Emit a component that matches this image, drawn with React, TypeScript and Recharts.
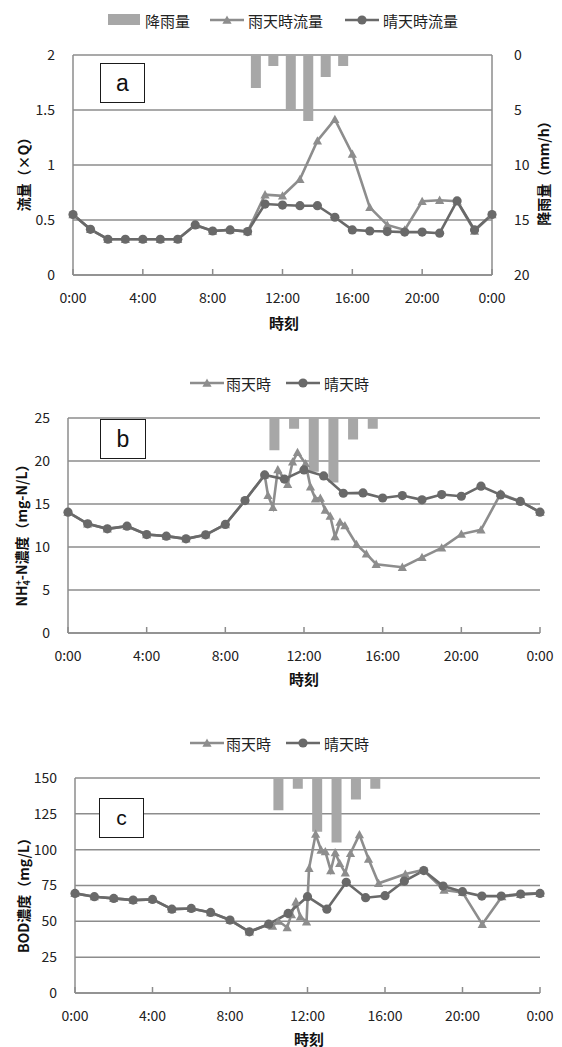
import React from "react";
import { Bar, CartesianGrid, ComposedChart, Line, XAxis, YAxis } from "recharts";

const FONT = "'Noto Sans CJK JP', 'Liberation Sans', sans-serif";
const GRID = "#8c8c8c";
const RAIN_C = "#8d8d8d";
const DRY_C = "#696969";
const BAR_C = "#a7a7a7";
const TXT = "#222";

// time axis
const timeTicks = [0, 4, 8, 12, 16, 20, 24];
const hours = [0, 1, 2, 3, 4, 5, 6, 7, 8, 9, 10, 11, 12, 13, 14, 15, 16, 17, 18, 19, 20, 21, 22, 23, 24];

// rainfall (mm/h), hung from the top on a reversed axis
const rainfallTimes = [10.5, 11.5, 12.5, 13.5, 14.5, 15.5];
const rainfall = [3, 1, 5, 6, 2, 1];

// a: flow (xQ)
const flowDry = [0.55, 0.415, 0.325, 0.325, 0.325, 0.325, 0.325, 0.455, 0.4, 0.41, 0.395, 0.645, 0.636, 0.63, 0.63, 0.525, 0.41, 0.4, 0.395, 0.39, 0.39, 0.38, 0.673, 0.41, 0.55];
const flowRain = [0.55, 0.415, 0.325, 0.325, 0.325, 0.325, 0.325, 0.455, 0.4, 0.41, 0.395, 0.73, 0.72, 0.87, 1.22, 1.415, 1.1, 0.615, 0.455, 0.41, 0.67, 0.68, 0.67, 0.4, 0.55];

// b: NH4+-N (mg-N/L)
const nh4Dry = [14.05, 12.69, 12.11, 12.42, 11.45, 11.26, 10.95, 11.42, 12.62, 15.4, 18.38, 17.9, 18.96, 18.27, 16.25, 16.29, 15.7, 15.98, 15.48, 16.1, 15.9, 17.07, 16.06, 15.3, 14.05];
const nh4RainTimes = [0, 1, 2, 3, 4, 5, 6, 7, 8, 9, 10, 10.17, 10.42, 10.67, 11.17, 11.42, 11.67, 12.08, 12.33, 12.58, 12.83, 13.08, 13.33, 13.58, 13.83, 14.08, 14.67, 15.17, 15.67, 17, 18, 19, 20, 21, 22, 23, 24];
const nh4Rain = [14.05, 12.69, 12.11, 12.42, 11.45, 11.26, 10.95, 11.42, 12.62, 15.4, 18.38, 16.0, 14.6, 19.0, 17.3, 19.9, 21.0, 19.7, 17.0, 15.6, 15.7, 14.3, 13.6, 11.2, 12.9, 12.5, 10.3, 9.2, 8.0, 7.65, 8.8, 9.9, 11.5, 12.0, 16.2, 15.3, 14.05];

// c: BOD (mg/L)
const bodDry = [69.5, 67.2, 66, 64.8, 65.3, 58.5, 59, 56.2, 50.9, 42.7, 48, 55.5, 67.2, 58.5, 77.2, 66.5, 67.9, 78.1, 85.4, 74.6, 70.7, 67.6, 67.6, 69, 69.5];
const bodRainTimes = [0, 1, 2, 3, 4, 5, 6, 7, 8, 9, 10, 10.2, 10.5, 10.95, 11.17, 11.4, 11.63, 11.95, 12.08, 12.42, 12.7, 12.92, 13.2, 13.43, 13.66, 13.95, 14.22, 14.68, 15.15, 15.67, 17.05, 17.97, 19.05, 20, 21.02, 22.03, 23, 24];
const bodRain = [69.5, 67.2, 66, 64.8, 65.3, 58.5, 59, 56.2, 50.9, 42.7, 48, 46.7, 50.2, 45.7, 54.8, 63.7, 53.2, 49.7, 87, 110.8, 99.8, 98.7, 85.5, 98, 90.5, 83.8, 97.5, 110.5, 93.5, 76.5, 83, 85.8, 71.8, 70.2, 48, 67.2, 68.8, 69.5];

type Series = { key: string; t: number[]; v: number[] };

function mergeRows(series: Series[]) {
  const map = new Map<number, any>();
  for (const s of series) {
    s.t.forEach((t, i) => {
      const row = map.get(t) ?? { t };
      row[s.key] = s.v[i];
      map.set(t, row);
    });
  }
  return [...map.values()].sort((a, b) => a.t - b.t);
}

const rowsA = mergeRows([
  { key: "rainfall", t: rainfallTimes, v: rainfall },
  { key: "rain", t: hours, v: flowRain },
  { key: "dry", t: hours, v: flowDry },
]);
const rowsB = mergeRows([
  { key: "rainfall", t: rainfallTimes, v: rainfall },
  { key: "rain", t: nh4RainTimes, v: nh4Rain },
  { key: "dry", t: hours, v: nh4Dry },
]);
const rowsC = mergeRows([
  { key: "rainfall", t: rainfallTimes, v: rainfall },
  { key: "rain", t: bodRainTimes, v: bodRain },
  { key: "dry", t: hours, v: bodDry },
]);

const triangleDot = (p: any) => {
  const { cx, cy, index } = p;
  if (cx == null || cy == null || p.value == null) return <g key={`tri-${index}`} />;
  const s = 4.6;
  return (
    <path
      key={`tri-${index}`}
      d={`M${cx},${cy - s}L${cx + s},${cy + s * 0.8}L${cx - s},${cy + s * 0.8}Z`}
      fill={RAIN_C}
    />
  );
};

// band size on a number axis follows the data spacing, so keep the bar 10px wide around its centre
const rainBar = (p: any) => {
  const x = Number(p.x);
  const y = Number(p.y);
  const w = Number(p.width) || 0;
  const h = Number(p.height) || 0;
  if (!isFinite(x) || !isFinite(y) || h === 0) return <g />;
  const cx = x + w / 2;
  return <rect x={cx - 5} y={Math.min(y, y + h)} width={10} height={Math.abs(h)} fill={BAR_C} />;
};

const tickStyle = { fill: TXT, fontSize: 14, fontFamily: FONT };

type PanelProps = {
  top: number;
  height: number;
  margin: { top: number; right: number; bottom: number; left: number };
  leftWidth: number;
  rightWidth: number;
  yDomain: [number, number];
  yTicks: number[];
  rows: any[];
  showRainAxis: boolean;
};

function Panel({ top, height, margin, leftWidth, rightWidth, yDomain, yTicks, rows, showRainAxis }: PanelProps) {
  return (
    <div style={{ position: "absolute", left: 0, top, width: 562, height }}>
      <ComposedChart width={562} height={height} data={rows} margin={margin}>
        <CartesianGrid yAxisId="left" vertical={false} stroke={GRID} strokeWidth={1.5} />
        <XAxis
          dataKey="t"
          type="number"
          domain={[0, 24]}
          ticks={timeTicks}
          interval={0}
          tickFormatter={(v: number) => `${v % 24}:00`}
          stroke={GRID}
          strokeWidth={1.5}
          tickSize={-6}
          tickMargin={24}
          height={30}
          tick={tickStyle}
        />
        <YAxis
          yAxisId="left"
          domain={yDomain}
          ticks={yTicks}
          interval={0}
          width={leftWidth}
          tickLine={false}
          tickMargin={12}
          stroke={GRID}
          strokeWidth={1.5}
          tick={tickStyle}
        />
        <YAxis
          yAxisId="rain"
          orientation="right"
          reversed
          domain={[0, 20]}
          ticks={[0, 5, 10, 15, 20]}
          interval={0}
          width={rightWidth}
          tickLine={false}
          tickMargin={16}
          stroke={GRID}
          strokeWidth={1.5}
          tick={showRainAxis ? { ...tickStyle, textAnchor: "start" } : false}
        />
        <Bar yAxisId="rain" dataKey="rainfall" fill={BAR_C} barSize={10} shape={rainBar} isAnimationActive={false} />
        <Line
          yAxisId="left"
          dataKey="rain"
          type="linear"
          stroke={RAIN_C}
          strokeWidth={2.6}
          connectNulls
          dot={triangleDot}
          activeDot={false}
          isAnimationActive={false}
        />
        <Line
          yAxisId="left"
          dataKey="dry"
          type="linear"
          stroke={DRY_C}
          strokeWidth={2.6}
          connectNulls
          dot={{ r: 4.6, fill: DRY_C, stroke: DRY_C, strokeWidth: 0 }}
          activeDot={false}
          isAnimationActive={false}
        />
      </ComposedChart>
    </div>
  );
}

function Abs({ x, y, children }: { x: number; y: number; children: React.ReactNode }) {
  return (
    <div
      style={{
        position: "absolute",
        left: x,
        top: y,
        transform: "translate(0, -50%)",
        whiteSpace: "nowrap",
        fontFamily: FONT,
        fontSize: 15,
        color: TXT,
        lineHeight: 1,
      }}
    >
      {children}
    </div>
  );
}

function Centered({ x, y, rotate, children, size = 15 }: { x: number; y: number; rotate?: boolean; children: React.ReactNode; size?: number }) {
  return (
    <div
      style={{
        position: "absolute",
        left: x,
        top: y,
        transform: `translate(-50%, -50%)${rotate ? " rotate(-90deg)" : ""}`,
        whiteSpace: "nowrap",
        fontFamily: FONT,
        fontSize: size,
        fontWeight: 700,
        color: "#111",
        lineHeight: 1,
      }}
    >
      {children}
    </div>
  );
}

function LineSwatch({ x, y, color, marker }: { x: number; y: number; color: string; marker: "tri" | "dot" }) {
  return (
    <svg style={{ position: "absolute", left: x, top: y - 8 }} width={36} height={16}>
      <line x1={0} y1={8} x2={34} y2={8} stroke={color} strokeWidth={2.6} />
      {marker === "tri" ? (
        <path d="M17,3.4L21.6,11.7L12.4,11.7Z" fill={color} />
      ) : (
        <circle cx={17} cy={8} r={4.6} fill={color} />
      )}
    </svg>
  );
}

function LetterBox({ x, y, w, h, letter, size }: { x: number; y: number; w: number; h: number; letter: string; size: number }) {
  return (
    <div
      style={{
        position: "absolute",
        left: x,
        top: y,
        width: w,
        height: h,
        boxSizing: "border-box",
        border: "1.6px solid #1a1a1a",
        background: "#fff",
        display: "flex",
        alignItems: "center",
        justifyContent: "center",
        fontFamily: "'Liberation Sans', Arial, sans-serif",
        fontSize: size,
        color: "#111",
      }}
    >
      {letter}
    </div>
  );
}

export default function App() {
  return (
    <div style={{ position: "absolute", left: 0, top: 0, width: 562, height: 1047, background: "#fff", overflow: "hidden" }}>
      {/* a */}
      <Panel
        top={0}
        height={345}
        margin={{ top: 55, right: 0, bottom: 40, left: 0 }}
        leftWidth={73}
        rightWidth={70}
        yDomain={[0, 2]}
        yTicks={[0, 0.5, 1, 1.5, 2]}
        rows={rowsA}
        showRainAxis
      />
      <div style={{ position: "absolute", left: 108, top: 14, width: 32, height: 11, background: BAR_C }} />
      <Abs x={145} y={20}>降雨量</Abs>
      <LineSwatch x={210} y={20} color={RAIN_C} marker="tri" />
      <Abs x={248} y={20}>雨天時流量</Abs>
      <LineSwatch x={345} y={20} color={DRY_C} marker="dot" />
      <Abs x={383} y={20}>晴天時流量</Abs>
      <LetterBox x={100} y={63} w={45} h={40} letter="a" size={23} />
      <Centered x={23} y={171} rotate size={14}>流量（×Q）</Centered>
      <Centered x={543} y={170} rotate size={14}>降雨量（mm/h）</Centered>
      <Centered x={284} y={322}>時刻</Centered>

      {/* b */}
      <Panel
        top={360}
        height={345}
        margin={{ top: 58, right: 22, bottom: 42, left: 0 }}
        leftWidth={68}
        rightWidth={0}
        yDomain={[0, 25]}
        yTicks={[0, 5, 10, 15, 20, 25]}
        rows={rowsB}
        showRainAxis={false}
      />
      <LineSwatch x={190} y={383} color={RAIN_C} marker="tri" />
      <Abs x={226} y={383}>雨天時</Abs>
      <LineSwatch x={286} y={383} color={DRY_C} marker="dot" />
      <Abs x={324} y={383}>晴天時</Abs>
      <LetterBox x={100} y={419} w={46} h={40} letter="b" size={23} />
      <Centered x={23} y={532} rotate size={14}>
        NH
        <span style={{ display: "inline-flex", flexDirection: "column", fontSize: 9, lineHeight: 0.95, verticalAlign: "middle" }}>
          <span>+</span>
          <span>4</span>
        </span>
        -N濃度（mg-N/L）
      </Centered>
      <Centered x={304} y={678}>時刻</Centered>

      {/* c */}
      <Panel
        top={720}
        height={327}
        margin={{ top: 58, right: 22, bottom: 24, left: 0 }}
        leftWidth={75}
        rightWidth={0}
        yDomain={[0, 150]}
        yTicks={[0, 25, 50, 75, 100, 125, 150]}
        rows={rowsC}
        showRainAxis={false}
      />
      <LineSwatch x={190} y={743} color={RAIN_C} marker="tri" />
      <Abs x={226} y={743}>雨天時</Abs>
      <LineSwatch x={286} y={743} color={DRY_C} marker="dot" />
      <Abs x={324} y={743}>晴天時</Abs>
      <LetterBox x={99} y={798} w={45} h={40} letter="c" size={21} />
      <Centered x={23} y={892} rotate size={14}>BOD濃度（mg/L）</Centered>
      <Centered x={309} y={1038}>時刻</Centered>
    </div>
  );
}
